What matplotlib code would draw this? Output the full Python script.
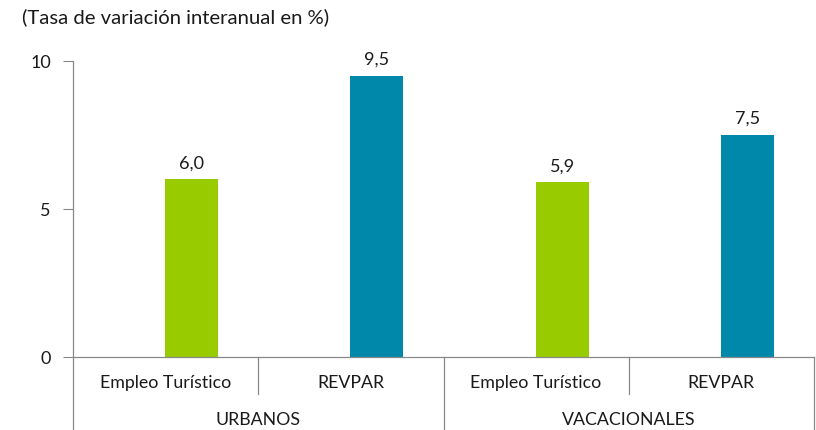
import matplotlib.pyplot as plt
from matplotlib.lines import Line2D

plt.rcParams['font.family'] = ['Lato', 'DejaVu Sans']

groups = ['URBANOS', 'VACACIONALES']
subcats = ['Empleo Turístico', 'REVPAR', 'Empleo Turístico', 'REVPAR']
values = [6.0, 9.5, 5.9, 7.5]
value_labels = ['6,0', '9,5', '5,9', '7,5']
bar_colors = ['#99cc00', '#0088aa', '#99cc00', '#0088aa']
yticks = [0, 5, 10]

W, H = 816, 431
fig = plt.figure(figsize=(W / 100, H / 100), dpi=100)
ax = fig.add_axes([73 / W, 1 - 358 / H, (814 - 73) / W, (358 - 62) / H])

x = [i + 0.14 for i in range(len(values))]
ax.bar(x, values, width=0.286, color=bar_colors, zorder=2)
for xi, v, lab in zip(x, values, value_labels):
    ax.text(xi, v + 0.3, lab, ha='center', va='bottom', fontsize=13, color='#1a1a1a')

ax.set_xlim(-0.5, 3.5)
ax.set_ylim(0, 10)
ax.set_yticks(yticks)
ax.set_yticklabels([str(t) for t in yticks], fontsize=13, color='#1a1a1a')
ax.tick_params(axis='y', length=7, width=0.8, color='#888888', pad=9)
ax.set_xticks([])
for s in ['top', 'right']:
    ax.spines[s].set_visible(False)
ax.spines['left'].set_color('#888888')
ax.spines['bottom'].set_color('#888888')
ax.spines['left'].set_linewidth(0.9)
ax.spines['bottom'].set_linewidth(0.9)

# category axis: subcategory and group labels with separators
trans = ax.get_xaxis_transform()
y_sub = -37 / 296
y_bot = -73 / 296
for i, lab in enumerate(subcats):
    ax.text(i, -25 / 296, lab, transform=trans, ha='center', va='center',
            fontsize=12.8, color='#1a1a1a')
for xs in [0.5, 2.5]:
    ax.add_line(Line2D([xs, xs], [0, y_sub], transform=trans, color='#888888',
                       lw=0.9, clip_on=False))
for xs in [-0.5, 1.5, 3.5]:
    ax.add_line(Line2D([xs, xs], [0, y_bot], transform=trans, color='#888888',
                       lw=0.9, clip_on=False))
for g, lab in enumerate(groups):
    ax.text(2 * g + 0.5, -62 / 296, lab, transform=trans, ha='center', va='center',
            fontsize=12.8, color='#1a1a1a')

fig.text(22 / W, 1 - 17 / H, '(Tasa de variación interanual en %)', ha='left', va='center',
         fontsize=14.6, color='#1a1a1a')

fig.savefig('out.png', dpi=100)
